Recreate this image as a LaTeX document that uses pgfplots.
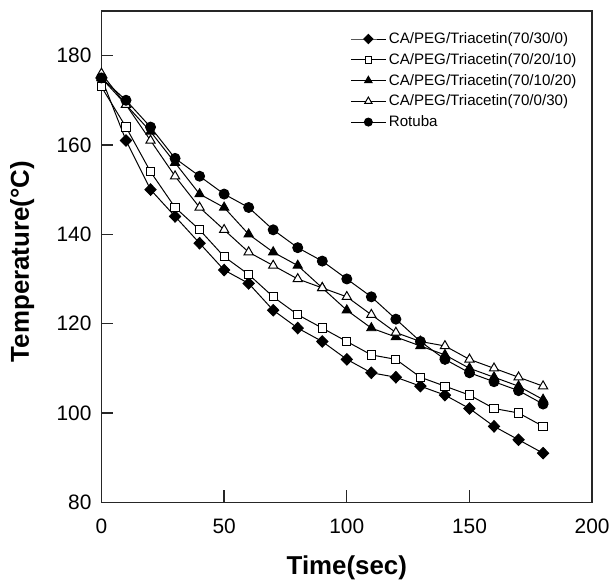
\documentclass[border=0pt]{standalone}
\usepackage{fontspec}
\setmainfont{Liberation Sans}
\usepackage{pgfplots}
\pgfplotsset{compat=1.18}

\begin{document}
\begin{tikzpicture}
\begin{axis}[
  name=ax,
  scale only axis,
  width=370pt,
  height=370.5pt,
  xmin=0, xmax=200,
  ymin=80, ymax=190,
  xtick={0,50,100,150,200},
  ytick={80,100,120,140,160,180},
  xtick pos=lower,
  ytick pos=left,
  tick align=inside,
  major tick length=9pt,
  axis line style={black!85, line width=1pt},
  tick style={black!85, line width=1pt},
  /pgf/number format/assume math mode=true,
  tick label style={font=\fontsize{15.75}{18}\selectfont},
  xticklabel style={yshift=-9pt},
  yticklabel style={xshift=-4pt},
  xlabel={\textbf{Time(sec)}},
  ylabel={\textbf{Temperature(°C)}},
  label style={font=\fontsize{19.5}{22}\selectfont},
  xlabel style={at={(axis description cs:0.5,-0.108)}, anchor=north, inner sep=0pt},
  ylabel style={at={(axis description cs:-0.1866,0.49)}, anchor=north, inner sep=0pt},
  every axis plot/.append style={black, line width=0.75pt},
  legend style={at={(0.507,0.962)}, anchor=north west, draw=none, fill=none,
    font=\fontsize{11.4}{13.4}\selectfont, row sep=1.9pt, inner sep=0pt},
  legend cell align={left},
  legend image code/.code={
    \draw[mark repeat=2,mark phase=2,/tikz/every mark/.append style={scale=0.8}]
      plot coordinates {(0cm,0cm) (0.46cm,0cm) (0.92cm,0cm)};
  },
]
\addplot[mark=diamond*, mark size=4.3pt, mark options={fill=black, xscale=1.3}] coordinates {
(0,175) (10,161) (20,150) (30,144) (40,138) (50,132) (60,129) (70,123) (80,119) (90,116)
(100,112) (110,109) (120,108) (130,106) (140,104) (150,101) (160,97) (170,94) (180,91)};
\addlegendentry{CA/PEG/Triacetin(70/30/0)}
\addplot[mark=square*, mark size=3.1pt, mark options={fill=white}] coordinates {
(0,173) (10,164) (20,154) (30,146) (40,141) (50,135) (60,131) (70,126) (80,122) (90,119)
(100,116) (110,113) (120,112) (130,108) (140,106) (150,104) (160,101) (170,100) (180,97)};
\addlegendentry{CA/PEG/Triacetin(70/20/10)}
\addplot[mark=triangle*, mark size=4pt, mark options={fill=black}] coordinates {
(0,175) (10,169) (20,163) (30,156) (40,149) (50,146) (60,140) (70,136) (80,133) (90,128)
(100,123) (110,119) (120,117) (130,115) (140,113) (150,110) (160,108) (170,106) (180,103)};
\addlegendentry{CA/PEG/Triacetin(70/10/20)}
\addplot[mark=triangle*, mark size=4pt, mark options={fill=white}] coordinates {
(0,176) (10,169) (20,161) (30,153) (40,146) (50,141) (60,136) (70,133) (80,130) (90,128)
(100,126) (110,122) (120,118) (130,116) (140,115) (150,112) (160,110) (170,108) (180,106)};
\addlegendentry{CA/PEG/Triacetin(70/0/30)}
\addplot[mark=*, mark size=3.75pt, mark options={fill=black}] coordinates {
(0,175) (10,170) (20,164) (30,157) (40,153) (50,149) (60,146) (70,141) (80,137) (90,134)
(100,130) (110,126) (120,121) (130,116) (140,112) (150,109) (160,107) (170,105) (180,102)};
\addlegendentry{Rotuba}
\end{axis}
\path ([xshift=-76.5pt,yshift=-63pt]ax.south west) rectangle ([xshift=14.25pt,yshift=8.25pt]ax.north east);
\end{tikzpicture}
\end{document}
